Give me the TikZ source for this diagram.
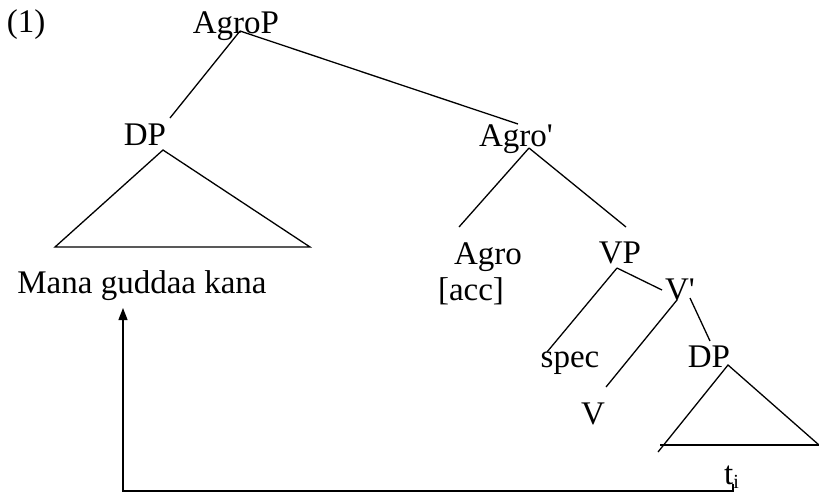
\documentclass[tikz,border=0pt]{standalone}
\usepackage{fontspec}
\setmainfont{Liberation Serif}
\usetikzlibrary{arrows.meta}
\begin{document}
\begin{tikzpicture}[x=1pt,y=-1pt,
  lbl/.style={anchor=base,inner sep=0pt,font=\fontsize{33}{38}\selectfont},
  edge/.style={line width=1.3pt},
  tri/.style={line width=1.3pt,line join=miter}]
\useasboundingbox (0,0) rectangle (819,499);
% labels
\node[lbl] (ex) at (26,32) {(1)};
\node[lbl] (agroP) at (236,33) {AgroP};
\node[lbl] (dp1) at (145,145) {DP};
\node[lbl] (agrobar) at (516,146) {Agro\textquotesingle};
\node[lbl] (agro) at (488,264) {Agro};
\node[lbl] (acc) at (471,300) {[acc]};
\node[lbl] (vp) at (620,263) {VP};
\node[lbl] (vbar) at (680,300) {V\textquotesingle};
\node[lbl] (spec) at (570,367) {spec};
\node[lbl] (v) at (593,424) {V};
\node[lbl] (dp2) at (709,367) {DP};
\node[lbl] (mana) at (142,293) {Mana guddaa kana};
\node[lbl,anchor=base west] (ti) at (724,484) {t\fontsize{20}{24}\selectfont\raisebox{-4pt}{i}};
% attachment points
\coordinate (agroP-b) at (240,31);
\coordinate (dp1-t) at (170,118);
\coordinate (agrobar-t) at (518,124);
\coordinate (agrobar-b) at (529,148);
\coordinate (agro-t) at (459,227);
\coordinate (vp-t) at (626,227);
\coordinate (vp-b) at (617,268);
\coordinate (spec-t) at (547,352);
\coordinate (vbar-t) at (662,290);
\coordinate (vbar-b1) at (677,300);
\coordinate (vbar-b2) at (690,298);
\coordinate (v-t) at (606,387);
\coordinate (dp2-t) at (710,341);
% tree edges
\draw[edge] (agroP-b) -- (dp1-t);
\draw[edge] (agroP-b) -- (agrobar-t);
\draw[edge] (agrobar-b) -- (agro-t);
\draw[edge] (agrobar-b) -- (vp-t);
\draw[edge] (vp-b) -- (spec-t);
\draw[edge] (vp-b) -- (vbar-t);
\draw[edge] (vbar-b1) -- (v-t);
\draw[edge] (vbar-b2) -- (dp2-t);
% triangles
\coordinate (t1a) at (163,150);
\coordinate (t1l) at (55,247);
\coordinate (t1r) at (310,247);
\draw[tri] (t1a) -- (t1l) -- (t1r) -- cycle;
\coordinate (t2a) at (728,365);
\coordinate (t2l) at (660,445);
\coordinate (t2r) at (819,445);
\draw[tri] (t2r) -- (t2a) -- (658,452);
\draw[tri] (t2l) -- (t2r);
% movement arrow
\coordinate (trace) at (733,484);
\coordinate (corner) at (123,491);
\coordinate (landing) at (123,308);
\draw[edge,-{Triangle[length=12pt,width=9pt]}] (trace) |- (corner) -- (landing);
\end{tikzpicture}
\end{document}
